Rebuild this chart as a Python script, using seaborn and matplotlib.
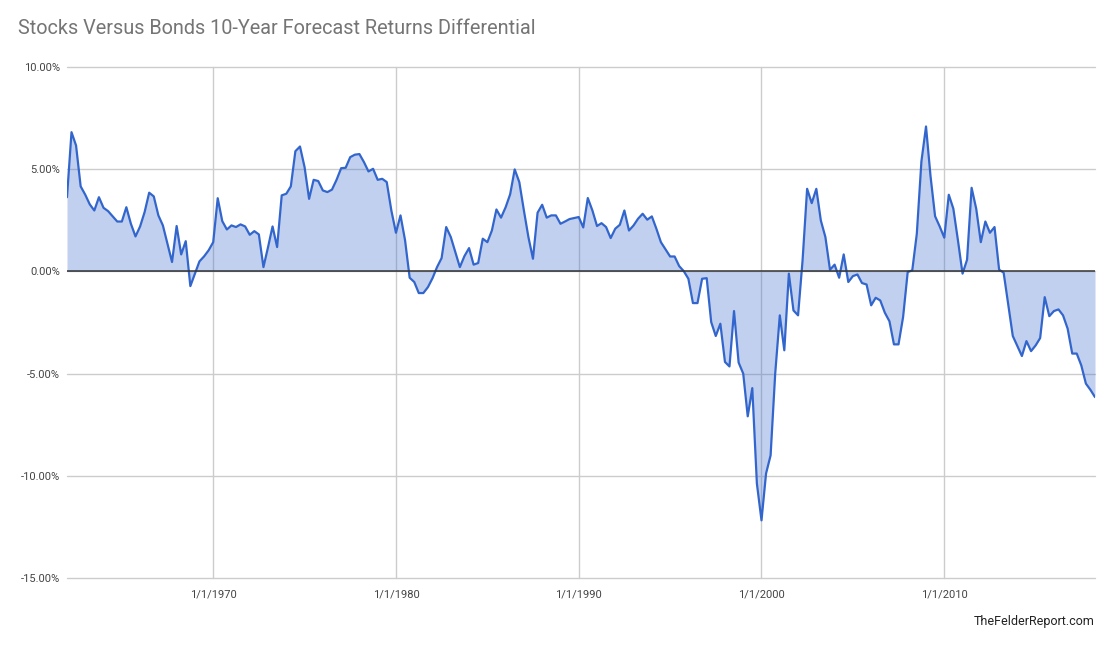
import numpy as np
import pandas as pd
import matplotlib
matplotlib.use("Agg")
import matplotlib.pyplot as plt
import matplotlib.dates as mdates
from matplotlib.ticker import FuncFormatter
import seaborn as sns

# ---- data (quarterly) ----
start_date = "1962-01-01"
differential = [
    3.63, 6.81, 6.16, 4.16, 3.75, 3.28, 2.98, 3.63, 3.11, 2.95,
    2.70, 2.44, 2.44, 3.14, 2.33, 1.71, 2.20, 2.90, 3.85, 3.67,
    2.74, 2.25, 1.35, 0.46, 2.22, 0.83, 1.48, -0.72, -0.11, 0.49,
    0.73, 1.03, 1.43, 3.58, 2.46, 2.05, 2.25, 2.17, 2.30, 2.20,
    1.79, 1.97, 1.81, 0.21, 1.19, 2.20, 1.19, 3.72, 3.80, 4.16,
    5.88, 6.11, 5.10, 3.55, 4.48, 4.42, 3.96, 3.88, 4.00, 4.48,
    5.05, 5.07, 5.59, 5.71, 5.74, 5.35, 4.89, 5.02, 4.48, 4.53,
    4.37, 2.98, 1.89, 2.74, 1.52, -0.31, -0.52, -1.06, -1.06, -0.77,
    -0.33, 0.21, 0.65, 2.17, 1.68, 0.94, 0.21, 0.75, 1.14, 0.33,
    0.41, 1.60, 1.43, 2.00, 3.03, 2.63, 3.14, 3.77, 4.99, 4.37,
    2.98, 1.68, 0.62, 2.87, 3.26, 2.63, 2.74, 2.74, 2.33, 2.44,
    2.56, 2.61, 2.66, 2.15, 3.59, 2.98, 2.22, 2.36, 2.17, 1.63,
    2.09, 2.28, 2.98, 2.00, 2.25, 2.58, 2.82, 2.53, 2.69, 2.09,
    1.43, 1.08, 0.73, 0.73, 0.26, 0.01, -0.36, -1.55, -1.55, -0.36,
    -0.33, -2.48, -3.16, -2.56, -4.43, -4.65, -1.94, -4.46, -5.00, -7.09,
    -5.71, -10.38, -12.18, -9.89, -9.00, -5.00, -2.15, -3.86, -0.11, -1.91,
    -2.15, 0.54, 4.04, 3.34, 4.04, 2.49, 1.68, 0.08, 0.33, -0.31,
    0.83, -0.52, -0.23, -0.15, -0.57, -0.64, -1.66, -1.29, -1.42, -2.02,
    -2.44, -3.57, -3.57, -2.23, -0.03, 0.05, 1.84, 5.38, 7.09, 4.66,
    2.70, 2.20, 1.65, 3.75, 3.07, 1.52, -0.11, 0.57, 4.09, 3.07,
    1.43, 2.44, 1.89, 2.17, 0.08, -0.06, -1.61, -3.16, -3.65, -4.14,
    -3.41, -3.90, -3.62, -3.26, -1.26, -2.19, -1.94, -1.86, -2.15, -2.80,
    -4.02, -4.02, -4.60, -5.49, -5.80, -6.15,
]
y_ticks = [10, 5, 0, -5, -10, -15]
x_tick_years = [1970, 1980, 1990, 2000, 2010]
title = "Stocks Versus Bonds 10-Year Forecast Returns Differential"
credit = "TheFelderReport.com"

dates = pd.date_range(start_date, periods=len(differential), freq="QS")
df = pd.DataFrame({"date": dates, "value": differential})

# ---- style ----
sns.set_style("white")
plt.rcParams["font.family"] = ["Roboto", "DejaVu Sans"]

LINE = "#3366cc"
GRID = "#cccccc"
LABEL = "#444444"

fig = plt.figure(figsize=(11.2, 6.49), dpi=100)
ax = fig.add_axes([67 / 1120, 1 - 578 / 649, (1095 - 67) / 1120, (578 - 67) / 649])

ax.fill_between(df["date"], df["value"], 0, color=LINE, alpha=0.3, linewidth=0, zorder=2)
sns.lineplot(data=df, x="date", y="value", ax=ax, color=LINE, linewidth=1.6, zorder=3)
ax.axhline(0, color="#333333", linewidth=1.1, zorder=4)

ax.set_ylim(-15, 10)
ax.set_xlim(dates[0], dates[-1])
ax.set_yticks(y_ticks)
ax.yaxis.set_major_formatter(FuncFormatter(lambda v, p: f"{v:.2f}%"))
xt = [pd.Timestamp(f"{y}-01-01") for y in x_tick_years]
ax.set_xticks(xt)
ax.set_xticklabels([f"1/1/{y}" for y in x_tick_years])

ax.grid(True, color=GRID, linewidth=1, zorder=0)
ax.set_axisbelow(True)
for gl in ax.get_ygridlines() + ax.get_xgridlines():
    gl.set_clip_on(False)
for s in ax.spines.values():
    s.set_visible(False)
ax.tick_params(axis="both", length=0, labelsize=8, labelcolor=LABEL)
ax.tick_params(axis="y", pad=5)
ax.tick_params(axis="x", pad=8)
ax.set_xlabel("")
ax.set_ylabel("")

fig.text(18 / 1120, 1 - 28 / 649, title, fontsize=14.3, color="#757575",
         ha="left", va="center")
fig.text(1095 / 1120, 1 - 622 / 649, credit, fontsize=9, color="#222222",
         ha="right", va="center")

fig.savefig("out.png", dpi=100)
